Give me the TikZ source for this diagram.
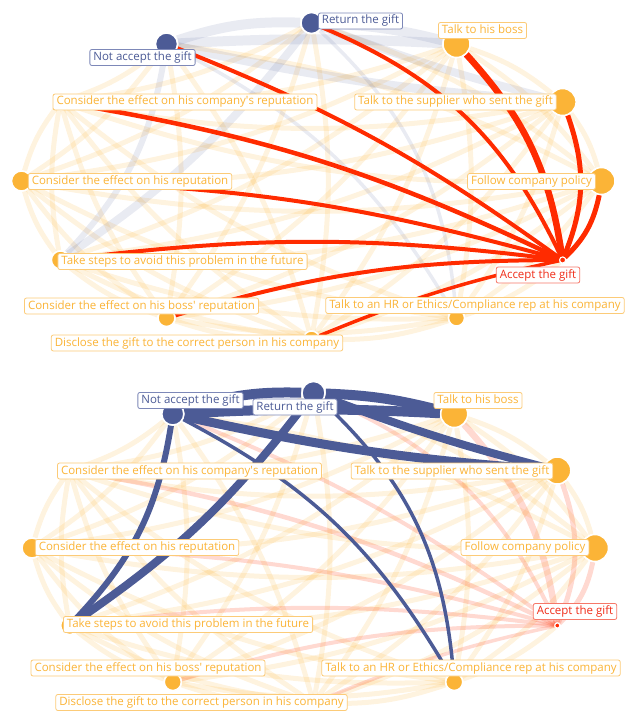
\documentclass[tikz,border=0pt]{standalone}
\usepackage{fontspec}
\setmainfont{Open Sans}
\definecolor{giftblue}{RGB}{76,91,150}
\definecolor{giftorange}{RGB}{251,180,55}
\definecolor{giftred}{RGB}{255,43,0}
\definecolor{lblblue}{RGB}{125,136,184}
\definecolor{lblorange}{RGB}{252,203,120}
\definecolor{lblred}{RGB}{246,120,105}
\definecolor{txtred}{RGB}{240,45,25}
\pgfdeclarelayer{edges}
\pgfsetlayers{edges,main}

\begin{document}
\begin{tikzpicture}[x=1pt, y=-1pt,
	bnode/.style={circle,draw=white,line width=1.5pt,fill=giftblue,inner sep=0pt},
	onode/.style={circle,draw=white,line width=1.5pt,fill=giftorange,inner sep=0pt},
	rnode/.style={circle,draw=white,line width=1pt,fill=giftred,inner sep=0pt},
	lbl/.style={fill=white,rounded corners=2pt,line width=0.8pt,inner xsep=3.5pt,inner ysep=2.5pt,
		text height=8.5pt,text depth=2.5pt,font=\fontsize{11.5}{13}\selectfont},
	blbl/.style={lbl,draw=lblblue,text=giftblue},
	olbl/.style={lbl,draw=lblorange,text=giftorange},
	rlbl/.style={lbl,draw=lblred,text=txtred},
	faint/.style={giftorange,opacity=0.16,line width=5pt}]
	\useasboundingbox (0,0) rectangle (626,711);
	% top
	\node[bnode,minimum size=22] (t0) at (166.5,44) {};
	\node[bnode,minimum size=21] (t1) at (311.5,23) {};
	\node[onode,minimum size=27] (t2) at (456.5,44) {};
	\node[onode,minimum size=27] (t3) at (562.6,102) {};
	\node[onode,minimum size=27] (t4) at (601.5,181) {};
	\node[rnode,minimum size=6] (t5) at (562.6,260) {};
	\node[onode,minimum size=16] (t6) at (456.5,318) {};
	\node[onode,minimum size=16] (t7) at (311.5,339) {};
	\node[onode,minimum size=17] (t8) at (166.5,318) {};
	\node[onode,minimum size=18] (t9) at (60.4,260) {};
	\node[onode,minimum size=20] (t10) at (21.5,181) {};
	\node[onode,minimum size=16] (t11) at (60.4,102) {};
	% bottom
	\node[bnode,minimum size=22] (b0) at (172.8,414) {};
	\node[bnode,minimum size=23] (b1) at (313.5,393) {};
	\node[onode,minimum size=27] (b2) at (454.2,414) {};
	\node[onode,minimum size=27] (b3) at (557.3,470.5) {};
	\node[onode,minimum size=27] (b4) at (595,548) {};
	\node[rnode,minimum size=5] (b5) at (557.3,625.5) {};
	\node[onode,minimum size=17] (b6) at (454.2,682) {};
	\node[onode,minimum size=16] (b7) at (313.5,703) {};
	\node[onode,minimum size=17] (b8) at (172.8,682) {};
	\node[onode,minimum size=18] (b9) at (69.7,625.5) {};
	\node[onode,minimum size=20] (b10) at (32,548) {};
	\node[onode,minimum size=16] (b11) at (69.7,470.5) {};

	\begin{pgfonlayer}{edges}
	\foreach \p in {t,b}{
		\foreach \a in {2,3,4,6,7,8,9,10,11}
			\foreach \b in {2,3,4,6,7,8,9,10,11}
				{\ifnum\a<\b \draw[faint] (\p\a) to[bend left=10] (\p\b); \fi}
		\foreach \a/\b in {0/4,0/7,0/8,0/10,0/11,1/4,1/7,1/8,1/10,1/11,5/6}
			\draw[faint] (\p\a) to[bend left=10] (\p\b);
	}
	\foreach \a/\b/\w/\t in {0/1/10/10, 0/2/10/3, 1/2/10/6, 0/3/9/-4, 1/3/8/-3,
		0/9/6/17, 1/9/8/9, 0/6/3.5/16, 1/6/3.5/21}
		\draw[giftblue,opacity=0.12,line width=\w] (t\a) to[bend left=\t] (t\b);
	\foreach \a/\w/\t in {1/4/21, 0/4/7, 2/6.5/17, 3/5/21, 4/5/17, 11/4.5/8,
		10/4/7, 9/4/7, 8/4/8, 7/3.5/5}{
		\draw[giftred,opacity=0.18,line width=\w] (b\a) to[bend left=\t] (b5);
		\draw[giftred,line width=\w] (t\a) to[bend left=\t] (t5);
	}
	\foreach \a/\b/\w/\t in {0/1/10/10, 0/2/10/3, 1/2/10/6, 0/3/9/-4, 1/3/8/-3,
		0/9/6/17, 1/9/8/9, 0/6/3.5/16, 1/6/3.5/21}
		\draw[giftblue,line width=\w] (b\a) to[bend left=\t] (b\b);
	\end{pgfonlayer}

	\node[blbl] (lt0) at (142.5,57.5) {Not accept the gift};
	\node[blbl] (lt1) at (360.5,21) {Return the gift};
	\node[olbl] (lt2) at (482.5,30.5) {Talk to his boss};
	\node[olbl] (lt3) at (455.5,102) {Talk to the supplier who sent the gift};
	\node[olbl] (lt4) at (531.5,181.5) {Follow company policy};
	\node[rlbl] (lt5) at (538,275) {Accept the gift};
	\node[olbl] (lt6) at (475,305.5) {Talk to an HR or Ethics/Compliance rep at his company};
	\node[olbl] (lt7) at (197,343) {Disclose the gift to the correct person in his company};
	\node[olbl] (lt8) at (141.5,306) {Consider the effect on his boss\textquotesingle{} reputation};
	\node[olbl] (lt9) at (182.5,261.5) {Take steps to avoid this problem in the future};
	\node[olbl] (lt10) at (130,181.5) {Consider the effect on his reputation};
	\node[olbl] (lt11) at (185,102) {Consider the effect on his company\textquotesingle s reputation};

	\node[blbl] (lb0) at (190.5,400.5) {Not accept the gift};
	\node[blbl] (lb1) at (295,407) {Return the gift};
	\node[olbl] (lb2) at (478,400.5) {Talk to his boss};
	\node[olbl] (lb3) at (452,471) {Talk to the supplier who sent the gift};
	\node[olbl] (lb4) at (525,547.5) {Follow company policy};
	\node[rlbl] (lb5) at (575,611.5) {Accept the gift};
	\node[olbl] (lb6) at (471,668) {Talk to an HR or Ethics/Compliance rep at his company};
	\node[olbl] (lb7) at (201.5,702.5) {Disclose the gift to the correct person in his company};
	\node[olbl] (lb8) at (148,668) {Consider the effect on his boss\textquotesingle{} reputation};
	\node[olbl] (lb9) at (188,624.5) {Take steps to avoid this problem in the future};
	\node[olbl] (lb10) at (137,547.5) {Consider the effect on his reputation};
	\node[olbl] (lb11) at (189.5,471) {Consider the effect on his company\textquotesingle s reputation};
\end{tikzpicture}
\end{document}
